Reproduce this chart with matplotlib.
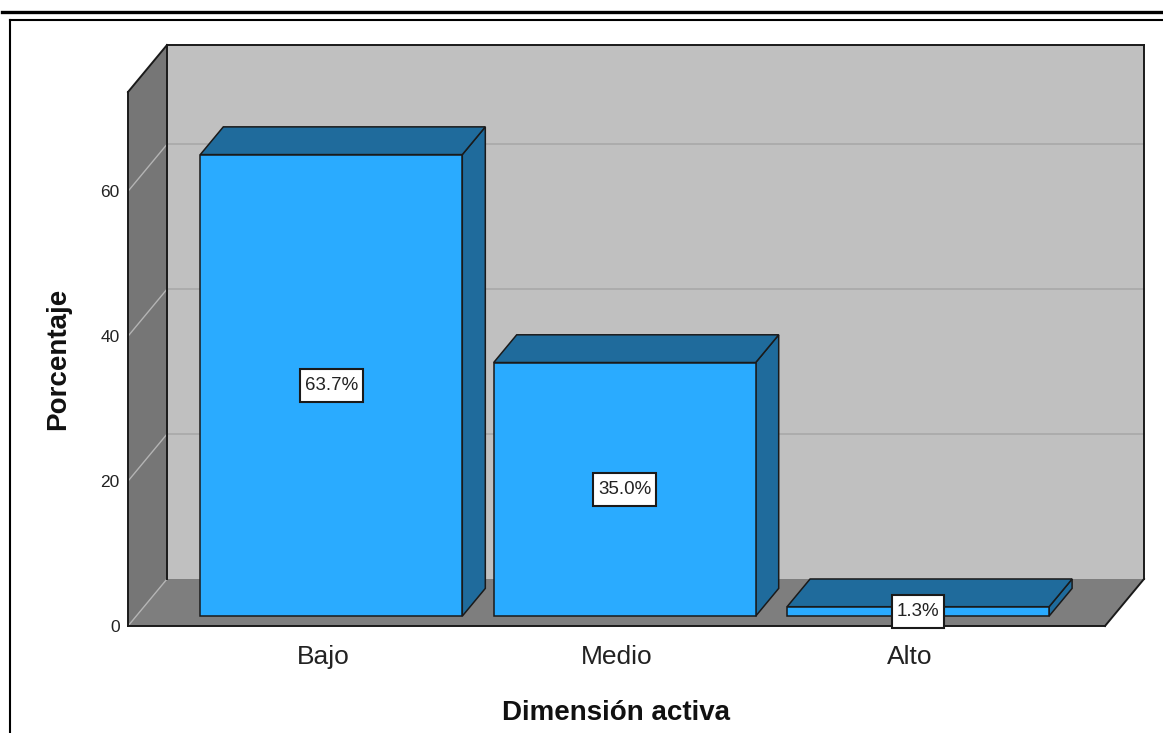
import matplotlib
matplotlib.use("Agg")
import matplotlib.pyplot as plt
from matplotlib.patches import Polygon
from matplotlib.lines import Line2D

# ---- data ----
categories = ["Bajo", "Medio", "Alto"]
percentages = [63.7, 35.0, 1.3]
value_labels = ["63.7%", "35.0%", "1.3%"]
y_ticks = [0, 20, 40, 60]
y_tick_labels = ["0", "20", "40", "60"]
x_title = "Dimensión activa"
y_title = "Porcentaje"

# ---- style ----
plt.rcParams["font.family"] = ["Liberation Sans", "DejaVu Sans"]
FRONT = "#2aabff"
SHADE = "#1f6b9c"
BACK_WALL = "#c0c0c0"
LEFT_WALL = "#767676"
FLOOR = "#7e7e7e"
EDGE = "#1a1a1a"
GRID_BACK = "#a8a8a8"
GRID_SIDE = "#b4b4b4"

W, H, DPI = 1163, 733, 100
fig = plt.figure(figsize=(W / DPI, H / DPI), dpi=DPI)
fig.patch.set_facecolor("white")

# front plane of the 3D box (pixels from top-left)
L_PX, R_PX, T_PX, B_PX = 128, 1105, 92, 626
ax = fig.add_axes([L_PX / W, 1 - B_PX / H, (R_PX - L_PX) / W, (B_PX - T_PX) / H])
XMIN, XMAX = -0.665, 2.665
YMAX = 73.7
ax.set_xlim(XMIN, XMAX)
ax.set_ylim(0, YMAX)
ax.patch.set_visible(False)
for s in ax.spines.values():
    s.set_visible(False)

# depth of the box, expressed in data units via the axes scale
DEPTH_PX = (39, 47)
ddx = DEPTH_PX[0] * (XMAX - XMIN) / ax.bbox.width
ddy = DEPTH_PX[1] * YMAX / ax.bbox.height


def P(x, y, d):
    return (x + d * ddx, y + d * ddy)


def poly(points, fc, ec="none", lw=0, z=1):
    ax.add_patch(Polygon(points, closed=True, facecolor=fc, edgecolor=ec,
                         linewidth=lw, joinstyle="miter", clip_on=False, zorder=z))


def seg(a, b, color=EDGE, lw=1.4, z=3):
    ax.add_line(Line2D([a[0], b[0]], [a[1], b[1]], color=color, lw=lw,
                       clip_on=False, zorder=z, solid_capstyle="projecting"))


# walls and floor
poly([P(XMIN, 0, 1), P(XMAX, 0, 1), P(XMAX, YMAX, 1), P(XMIN, YMAX, 1)], BACK_WALL)
poly([P(XMIN, 0, 0), P(XMIN, YMAX, 0), P(XMIN, YMAX, 1), P(XMIN, 0, 1)], LEFT_WALL)
poly([P(XMIN, 0, 0), P(XMAX, 0, 0), P(XMAX, 0, 1), P(XMIN, 0, 1)], FLOOR)

# gridlines on back wall and left wall
for t in y_ticks:
    if t > 0:
        seg(P(XMIN, t, 1), P(XMAX, t, 1), color=GRID_BACK, lw=1.2, z=1.5)
    seg(P(XMIN, t, 0), P(XMIN, t, 1), color=GRID_SIDE, lw=1.0, z=1.5)

# box edges
seg(P(XMIN, 0, 0), P(XMIN, YMAX, 0))
seg(P(XMIN, 0, 0), P(XMAX, 0, 0))
seg(P(XMIN, YMAX, 0), P(XMIN, YMAX, 1))
seg(P(XMIN, YMAX, 1), P(XMAX, YMAX, 1))
seg(P(XMAX, YMAX, 1), P(XMAX, 0, 1))
seg(P(XMAX, 0, 1), P(XMAX, 0, 0))
seg(P(XMIN, YMAX, 1), P(XMIN, 0, 1))

# bars
BAR_W = 0.893
D0, D1 = 0.21, 0.80
for i, v in enumerate(percentages):
    x0, x1 = i - BAR_W / 2, i + BAR_W / 2
    poly([P(x1, 0, D0), P(x1, 0, D1), P(x1, v, D1), P(x1, v, D0)], SHADE, EDGE, 1.1, 4)
    poly([P(x0, v, D0), P(x1, v, D0), P(x1, v, D1), P(x0, v, D1)], SHADE, EDGE, 1.1, 4)
    poly([P(x0, 0, D0), P(x1, 0, D0), P(x1, v, D0), P(x0, v, D0)], FRONT, EDGE, 1.1, 5)
    cx, cy = P(i, v / 2, D0)
    t = ax.text(cx, cy, value_labels[i], ha="center", va="center", fontsize=13.5,
                color="#222222", zorder=6,
                bbox=dict(boxstyle="square,pad=0.27", facecolor="white",
                          edgecolor=EDGE, linewidth=1.5))
    t.get_bbox_patch().set_mutation_aspect(1.6)

# axes ticks and labels
ax.set_yticks(y_ticks, y_tick_labels)
ax.set_xticks(range(len(categories)), categories)
ax.tick_params(axis="y", length=0, pad=6, labelsize=12.5, labelcolor="#222222")
ax.tick_params(axis="x", length=0, pad=14, labelsize=19, labelcolor="#222222")
ax.set_xlabel(x_title, fontsize=20, fontweight="bold", labelpad=22, color="#111111")
ax.set_ylabel(y_title, fontsize=20, fontweight="bold", color="#111111")
ax.yaxis.set_label_coords((58 - L_PX) / (R_PX - L_PX), 0.5)
ax.yaxis.label.set_va("center")

# outer frame lines
def fig_line(x0, y0, x1, y1, lw):
    fig.add_artist(Line2D([x0 / W, x1 / W], [1 - y0 / H, 1 - y1 / H], color="black",
                          lw=lw, transform=fig.transFigure))

fig_line(2, 11.5, W + 5, 11.5, 2.4)
fig_line(9.5, 20, W + 5, 20, 1.5)
fig_line(9.5, 20, 9.5, H + 5, 1.5)

fig.savefig("out.png", dpi=DPI)
